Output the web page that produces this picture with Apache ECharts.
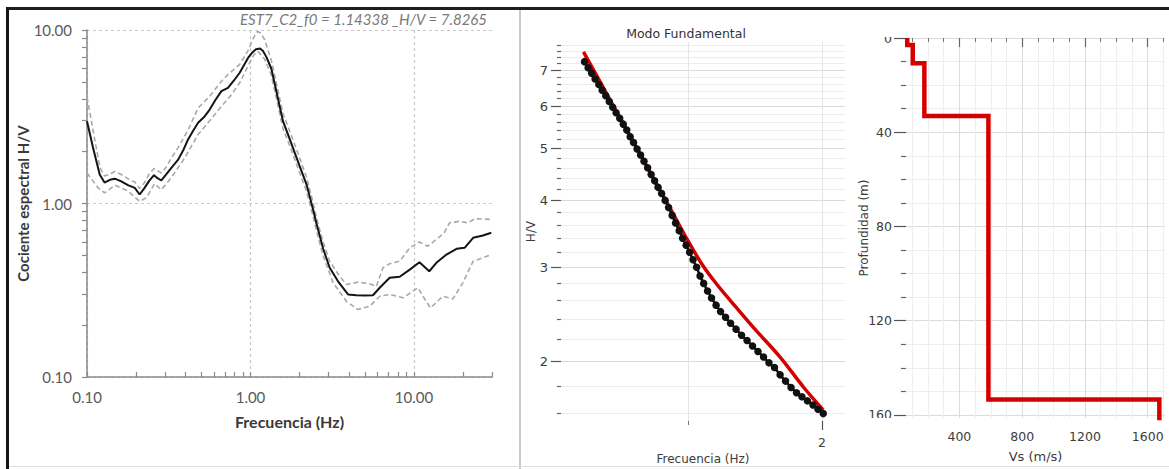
<!DOCTYPE html>
<html>
<head>
<meta charset="utf-8">
<script src="https://cdn.jsdelivr.net/npm/echarts@6.0.0/dist/echarts.min.js"></script>
<style>
  html, body { margin: 0; padding: 0; background: #ffffff; }
  #chart { width: 1169px; height: 469px; }
</style>
</head>
<body>
<div id="chart"></div>
<script>
// ---- H/V spectral ratio, station EST7_C2 (left panel) ----
const hvTitle = 'EST7_C2_f0 = 1.14338 _H/V = 7.8265';
const hvFreq = [0.1, 0.109, 0.1196, 0.128, 0.138, 0.148, 0.162, 0.178, 0.196, 0.21,
  0.225, 0.24, 0.257, 0.27, 0.285, 0.305, 0.328, 0.361, 0.39, 0.415,
  0.445, 0.478, 0.52, 0.563, 0.61, 0.664, 0.728, 0.79, 0.859, 0.91,
  0.966, 1.03, 1.08, 1.14338, 1.19, 1.25, 1.34, 1.40, 1.47, 1.58,
  1.74, 1.95, 2.2, 2.41, 2.53, 2.78, 3.05, 3.43, 3.95, 4.44,
  5.0, 5.61, 6.17, 7.1, 8.18, 9.42, 10.8, 12.4, 13.7, 15.8,
  18.2, 20.4, 23, 26.4, 29.7];
const hvMean = [2.98, 2.09, 1.47, 1.32, 1.37, 1.39, 1.34, 1.275, 1.23, 1.127,
  1.23, 1.35, 1.456, 1.40, 1.357, 1.47, 1.605, 1.79, 2.05, 2.34,
  2.62, 2.92, 3.15, 3.48, 3.95, 4.44, 4.64, 5.1, 5.67, 6.25,
  6.9, 7.45, 7.75, 7.8265, 7.6, 7.0, 6.0, 5.0, 4.06, 2.98,
  2.34, 1.75, 1.29, 0.93, 0.77, 0.55, 0.426, 0.356, 0.299, 0.296,
  0.295, 0.296, 0.327, 0.373, 0.378, 0.416, 0.459, 0.407, 0.455, 0.508,
  0.548, 0.555, 0.634, 0.654, 0.678];
const hvUpperFreq = [0.1, 0.105, 0.111, 0.12, 0.128, 0.138, 0.148, 0.162, 0.178, 0.196,
  0.21, 0.225, 0.24, 0.257, 0.285, 0.305, 0.328, 0.361, 0.415, 0.478,
  0.563, 0.664, 0.728, 0.859, 0.966, 1.03, 1.1, 1.16, 1.22, 1.34,
  1.47, 1.58, 1.74, 1.95, 2.2, 2.41, 2.53, 2.78, 3.05, 3.45,
  3.86, 4.54, 5.36, 5.89, 6.46, 7.1, 8.18, 9.42, 10.8, 12.1,
  13.7, 15.3, 16.5, 19.0, 21.4, 23.5, 29.7];
const hvUpper = [4.1, 3.2, 2.39, 1.61, 1.44, 1.48, 1.53, 1.47, 1.39, 1.33,
  1.22, 1.32, 1.48, 1.59, 1.5, 1.62, 1.83, 2.1, 2.65, 3.55,
  4.15, 5.06, 5.54, 6.34, 7.6, 8.8, 9.8, 9.6, 8.8, 6.7,
  4.5, 3.3, 2.6, 1.95, 1.42, 1.02, 0.83, 0.6, 0.465, 0.39,
  0.341, 0.352, 0.345, 0.333, 0.426, 0.45, 0.465, 0.555, 0.6, 0.567,
  0.62, 0.678, 0.774, 0.79, 0.774, 0.816, 0.81];
const hvLowerFreq = [0.1, 0.108, 0.117, 0.128, 0.148, 0.178, 0.21, 0.231, 0.259, 0.285,
  0.328, 0.396, 0.478, 0.563, 0.664, 0.759, 0.859, 0.966, 1.05, 1.11,
  1.22, 1.34, 1.47, 1.58, 1.74, 1.95, 2.2, 2.41, 2.53, 2.78,
  3.2, 3.86, 4.54, 5.36, 6.17, 7.1, 8.57, 10.57, 11.35, 12.6,
  15.0, 17.3, 19.9, 23.0, 26.4, 29.7];
const hvLower = [1.5, 1.36, 1.23, 1.15, 1.275, 1.18, 1.03, 1.08, 1.3, 1.2,
  1.41, 1.83, 2.5, 3.0, 3.63, 4.2, 4.96, 6.2, 7.2, 7.54,
  6.8, 5.5, 3.7, 2.7, 2.15, 1.6, 1.18, 0.85, 0.70, 0.5,
  0.35, 0.273, 0.245, 0.256, 0.292, 0.299, 0.286, 0.327, 0.292, 0.25,
  0.292, 0.282, 0.349, 0.465, 0.487, 0.508];
const hvDecadeTicks = [0.1, 1, 10];
const hvFreqTicks = [0.1, 0.2, 0.3, 0.4, 0.5, 0.6, 0.7, 0.8, 0.9, 1, 2, 3, 4, 5, 6, 7, 8, 9, 10, 20, 30];
const hvAmpTicks = [0.1, 0.2, 0.3, 0.4, 0.5, 0.6, 0.7, 0.8, 0.9, 1, 2, 3, 4, 5, 6, 7, 8, 9, 10];

// ---- Fundamental mode fit (middle panel) ----
const fitObsFreq = [0.585, 0.596, 0.607, 0.618, 0.630, 0.641, 0.653, 0.665, 0.677, 0.689,
  0.702, 0.715, 0.728, 0.741, 0.754, 0.768, 0.782, 0.796, 0.811, 0.826,
  0.841, 0.856, 0.872, 0.888, 0.904, 0.921, 0.937, 0.955, 0.972, 0.990,
  1.008, 1.026, 1.045, 1.064, 1.084, 1.106, 1.129, 1.156, 1.183, 1.214,
  1.246, 1.282, 1.319, 1.357, 1.396, 1.436, 1.478, 1.520, 1.564, 1.610,
  1.656, 1.704, 1.753, 1.803, 1.855, 1.909, 1.959, 2.013];
const fitObsHV = [7.26, 7.07, 6.91, 6.74, 6.58, 6.42, 6.27, 6.12, 5.97, 5.83,
  5.69, 5.55, 5.41, 5.26, 5.13, 4.99, 4.86, 4.73, 4.60, 4.47,
  4.35, 4.23, 4.12, 4.00, 3.88, 3.75, 3.63, 3.51, 3.40, 3.30,
  3.20, 3.10, 3.00, 2.89, 2.80, 2.71, 2.63, 2.55, 2.48, 2.42,
  2.36, 2.30, 2.24, 2.19, 2.14, 2.09, 2.04, 1.99, 1.95, 1.89,
  1.84, 1.79, 1.75, 1.72, 1.69, 1.66, 1.63, 1.60];
const fitModelFreq = [0.582, 0.62, 0.66, 0.70, 0.75, 0.80, 0.865, 0.93, 1.0, 1.08, 1.16, 1.25, 1.40, 1.61, 1.82, 2.013];
const fitModelHV = [7.57, 6.89, 6.27, 5.74, 5.18, 4.70, 4.18, 3.75, 3.36, 3.02, 2.79, 2.59, 2.32, 2.04, 1.79, 1.625];
const fitHVMajor = [2, 3, 4, 5, 6, 7];
const fitHVMinor = [1.6, 1.8, 2.2, 2.4, 2.6, 2.8, 3.2, 3.4, 3.6, 3.8, 4.2, 4.4, 4.6, 4.8,
  5.2, 5.4, 5.6, 5.8, 6.2, 6.4, 6.6, 6.8, 7.2, 7.4, 7.6, 7.8];
const fitFreqMajor = [2];
const fitFreqMinor = [1];

// ---- Shear-wave velocity profile (right panel) ----
const layerVs = [68, 103, 177, 585, 1674];
const layerTop = [0, 3.0, 10.7, 33.1, 153.5];
const profileBottom = 170;
const depthMajor = [0, 40, 80, 120, 160];
const depthMinor = [10, 20, 30, 50, 60, 70, 90, 100, 110, 130, 140, 150];
const vsMajor = [400, 800, 1200, 1600];
const vsMinor = [100, 200, 300, 500, 600, 700, 900, 1000, 1100, 1300, 1400, 1500, 1700];

// ---- build option ----
const pairs = (xs, ys) => xs.map((x, i) => [x, ys[i]]);
const profile = [];
layerVs.forEach((vs, i) => {
  const bottom = i + 1 < layerTop.length ? layerTop[i + 1] : profileBottom;
  profile.push([vs, layerTop[i]], [vs, bottom]);
});

const hvLabelFont = { fontFamily: 'Lato', fontSize: 15, color: '#595959' };
const hvNameFont = { fontFamily: 'Lato', fontSize: 15, fontWeight: 'bold', color: '#3a3a3a' };
const smallFont = { fontFamily: 'DejaVu Sans', fontSize: 12.5, color: '#3c3c3c' };
const nameFont = { fontFamily: 'DejaVu Sans', fontSize: 12, color: '#3c3c3c' };

function axis(base, extra) { return Object.assign({}, base, extra); }

const hvX = { type: 'log', gridIndex: 0, min: 0.1, max: 30, position: 'bottom' };
const hvY = { type: 'log', gridIndex: 0, min: 0.1, max: 10, position: 'left' };
const fitX = { type: 'log', gridIndex: 1, min: 0.518, max: 2.253, position: 'bottom' };
const fitY = { type: 'log', gridIndex: 1, min: 1.55, max: 7.9, position: 'left' };
const vsX = { type: 'value', gridIndex: 2, min: 60, max: 1710, position: 'bottom' };
const dY = { type: 'value', gridIndex: 2, min: 0, max: 161.3, inverse: true, position: 'left' };

const option = {
  animation: false,
  backgroundColor: '#ffffff',
  title: [{
    text: hvTitle, left: 240, top: 11, padding: 0,
    textStyle: { fontFamily: 'Lato', fontStyle: 'italic', fontWeight: 'normal', fontSize: 15, color: '#7a7a7a' }
  }],
  grid: [
    { left: 87, top: 30, width: 405, height: 347, outerBoundsMode: 'none' },
    { left: 561, top: 42, width: 284, height: 379, outerBoundsMode: 'none' },
    { left: 906, top: 38, width: 259, height: 380, outerBoundsMode: 'none' }
  ],
  xAxis: [
    axis(hvX, {
      name: 'Frecuencia (Hz)', nameLocation: 'middle', nameGap: 36, nameMoveOverlap: false,
      nameTextStyle: { ...hvNameFont, fontSize: 16 },
      axisLine: { show: true, lineStyle: { color: '#8a8a8a', width: 1.5 } },
      axisTick: { show: false, customValues: hvDecadeTicks },
      axisLabel: { customValues: hvDecadeTicks, formatter: v => v.toFixed(2), margin: 12, ...hvLabelFont },
      splitLine: { show: true, lineStyle: { color: '#c8c8c8', type: [3, 3], width: 1.2 } }
    }),
    axis(hvX, {
      axisLine: { show: false },
      axisTick: { show: true, inside: true, length: 5, customValues: hvFreqTicks, lineStyle: { color: '#8a8a8a', width: 1.2 } },
      axisLabel: { show: false }, splitLine: { show: false }
    }),
    axis(fitX, {
      name: 'Frecuencia (Hz)', nameLocation: 'middle', nameGap: 32, nameTextStyle: nameFont, nameMoveOverlap: false,
      axisLine: { show: false },
      axisTick: { show: true, length: 9, customValues: fitFreqMajor, lineStyle: { color: '#555', width: 1.2 } },
      axisLabel: { customValues: fitFreqMajor, margin: 15, ...smallFont },
      splitLine: { show: true, lineStyle: { color: '#e4e4e4', width: 1 } }
    }),
    axis(fitX, {
      axisLine: { show: false },
      axisTick: { show: true, length: 4, customValues: fitFreqMinor, lineStyle: { color: '#777', width: 1 } },
      axisLabel: { show: false },
      splitLine: { show: true, lineStyle: { color: '#e4e4e4', width: 1 } }
    }),
    axis(vsX, {
      name: 'Vs (m/s)', nameLocation: 'middle', nameGap: 32, nameTextStyle: { ...nameFont, fontSize: 13 }, nameMoveOverlap: false,
      axisLine: { show: false },
      axisTick: { show: true, length: 9, customValues: vsMajor, lineStyle: { color: '#666', width: 1.2 } },
      axisLabel: { customValues: vsMajor, formatter: v => String(v), margin: 12, ...smallFont },
      splitLine: { show: true, lineStyle: { color: '#dcdcdc', width: 1 } }
    }),
    axis(vsX, {
      axisLine: { show: false },
      axisTick: { show: true, length: 4, customValues: vsMinor, lineStyle: { color: '#777', width: 1 } },
      axisLabel: { show: false },
      splitLine: { show: true, lineStyle: { color: '#eeeeee', width: 1 } }
    })
  ],
  yAxis: [
    axis(hvY, {
      name: 'Cociente espectral H/V', nameLocation: 'middle', nameGap: 57, nameTextStyle: hvNameFont, nameMoveOverlap: false,
      axisLine: { show: true, lineStyle: { color: '#8a8a8a', width: 1.5 } },
      axisTick: { show: false, customValues: hvDecadeTicks },
      axisLabel: { customValues: hvDecadeTicks, formatter: v => v.toFixed(2), margin: 15, ...hvLabelFont },
      splitLine: { show: true, lineStyle: { color: '#c8c8c8', type: [3, 3], width: 1.2 } }
    }),
    axis(hvY, {
      axisLine: { show: false },
      axisTick: { show: true, length: 5, customValues: hvAmpTicks, lineStyle: { color: '#8a8a8a', width: 1.2 } },
      axisLabel: { show: false }, splitLine: { show: false }
    }),
    axis(fitY, {
      name: 'H/V', nameLocation: 'middle', nameGap: 24, nameTextStyle: nameFont, nameMoveOverlap: false,
      axisLine: { show: false },
      axisTick: { show: true, length: 10, customValues: fitHVMajor, lineStyle: { color: '#555', width: 1.2 } },
      axisLabel: { customValues: fitHVMajor, margin: 13, ...smallFont, fontSize: 13 },
      splitLine: { show: true, lineStyle: { color: '#dadada', width: 1 } }
    }),
    axis(fitY, {
      axisLine: { show: false },
      axisTick: { show: true, length: 4, customValues: fitHVMinor, lineStyle: { color: '#666', width: 1.2 } },
      axisLabel: { show: false },
      splitLine: { show: true, lineStyle: { color: '#ececec', width: 1 } }
    }),
    axis(dY, {
      name: 'Profundidad (m)', nameLocation: 'middle', nameGap: 36, nameTextStyle: nameFont, nameMoveOverlap: false,
      axisLine: { show: false },
      axisTick: { show: true, length: 12, customValues: depthMajor, lineStyle: { color: '#555', width: 1.2 } },
      axisLabel: { customValues: depthMajor, margin: 14, ...smallFont },
      splitLine: { show: true, lineStyle: { color: '#dcdcdc', width: 1 } }
    }),
    axis(dY, {
      axisLine: { show: false },
      axisTick: { show: true, length: 5, customValues: depthMinor, lineStyle: { color: '#666', width: 1.2 } },
      axisLabel: { show: false },
      splitLine: { show: true, lineStyle: { color: '#eeeeee', width: 1 } }
    })
  ],
  series: [
    { type: 'line', name: 'H/V + s', xAxisIndex: 0, yAxisIndex: 0, data: pairs(hvUpperFreq, hvUpper),
      symbol: 'none', silent: true, lineStyle: { color: '#a9a9a9', width: 1.6, type: [5, 3] } },
    { type: 'line', name: 'H/V - s', xAxisIndex: 0, yAxisIndex: 0, data: pairs(hvLowerFreq, hvLower),
      symbol: 'none', silent: true, lineStyle: { color: '#a9a9a9', width: 1.6, type: [5, 3] } },
    { type: 'line', name: 'H/V', xAxisIndex: 0, yAxisIndex: 0, data: pairs(hvFreq, hvMean),
      symbol: 'none', silent: true, lineStyle: { color: '#141414', width: 2 } },
    { type: 'line', name: 'Teórico', xAxisIndex: 2, yAxisIndex: 2, data: pairs(fitModelFreq, fitModelHV),
      symbol: 'none', silent: true, smooth: 0.35, lineStyle: { color: '#d40000', width: 3.5 } },
    { type: 'line', name: 'Observado', xAxisIndex: 2, yAxisIndex: 2, data: pairs(fitObsFreq, fitObsHV),
      symbol: 'circle', symbolSize: 7.5, silent: true,
      itemStyle: { color: '#111111', borderWidth: 0 }, lineStyle: { color: '#111111', width: 2.5 } },
    { type: 'line', name: 'Vs', xAxisIndex: 4, yAxisIndex: 4, data: profile,
      symbol: 'none', silent: true, clip: true, lineStyle: { color: '#d40000', width: 4.5, join: 'miter' } }
  ],
  graphic: [
    // frame lines
    { type: 'rect', z: 100, silent: true, shape: { x: 7, y: 7, width: 1162, height: 3 }, style: { fill: '#1e1e1e' } },
    { type: 'rect', z: 100, silent: true, shape: { x: 6, y: 7, width: 3, height: 462 }, style: { fill: '#151515' } },
    { type: 'rect', z: 100, silent: true, shape: { x: 519, y: 10, width: 2, height: 459 }, style: { fill: '#c9c9c9' } },
    { type: 'rect', z: 100, silent: true, shape: { x: 9, y: 466, width: 1160, height: 1 }, style: { fill: '#dddddd' } },
    // the profile panel crops its end labels
    { type: 'rect', z: 100, silent: true, shape: { x: 868, y: 10, width: 36, height: 27 }, style: { fill: '#ffffff' } },
    { type: 'rect', z: 100, silent: true, shape: { x: 868, y: 418, width: 24, height: 12 }, style: { fill: '#ffffff' } },
    { type: 'text', z: 100, silent: true, x: 686, y: 33,
      style: { text: 'Modo Fundamental', fill: '#333333', font: '12.5px "DejaVu Sans"', align: 'center', verticalAlign: 'middle' } }
  ]
};

const chart = echarts.init(document.getElementById('chart'), null, { renderer: 'svg' });
chart.setOption(option);
</script>
</body>
</html>
